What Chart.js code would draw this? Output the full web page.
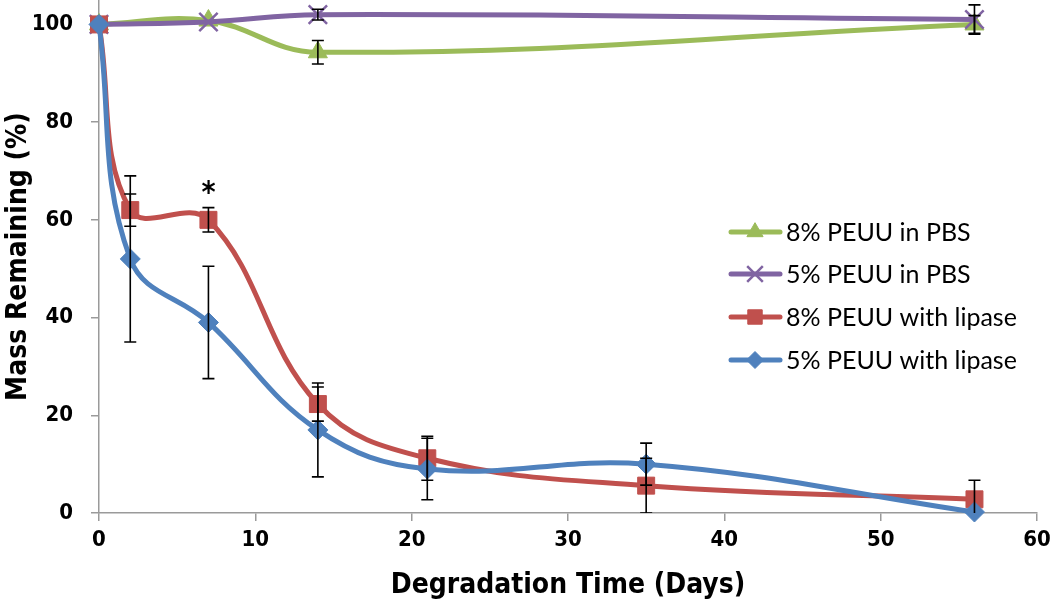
<!DOCTYPE html>
<html>
<head>
<meta charset="utf-8">
<script src="https://cdn.jsdelivr.net/npm/chart.js@4/dist/chart.umd.min.js"></script>
<style>
    html, body { margin: 0; padding: 0; background: #fff; }
    #wrap { width: 1050px; height: 612px; position: relative; }
</style>
</head>
<body>
<div id="wrap"><canvas id="chart"></canvas></div>
<script>
// days sampled
var daysPBS = [0, 7, 14, 56];
var daysLipase = [0, 2, 7, 14, 21, 35, 56];

// mass remaining (%) and error bars
var pbs8 = [100, 100.8, 94.3, 100];
var pbs8Err = [0, 0, 2.4, 1.8];
var pbs5 = [100, 100.5, 102, 101];
var pbs5Err = [0, 0, 1.1, 3];
var lip8 = [100, 62, 60, 22.3, 11.2, 5.6, 2.8];
var lip8Err = [0, 3.3, 2.5, 3.5, 4.5, 5.6, 3.9];
var lip5 = [100, 52, 39, 17, 9, 10, 0.2];
var lip5Err = [0, 17, 11.5, 9.6, 6.3, 4.3, 0];

var seriesNames = ['8% PEUU in PBS', '5% PEUU in PBS', '8% PEUU with lipase', '5% PEUU with lipase'];
var xTicks = [0, 10, 20, 30, 40, 50, 60];
var yTicks = [0, 20, 40, 60, 80, 100];

var TICK_FONT = "'DejaVu Sans Condensed', 'DejaVu Sans', sans-serif";

function pts(xs, ys) {
    return xs.map(function (x, i) { return { x: x, y: ys[i] }; });
}

function mkSet(label, xs, ys, errs, color, style, radius, order) {
    return {
        label: label,
        data: pts(xs, ys),
        errors: errs,
        borderColor: color,
        backgroundColor: color,
        borderWidth: 5,
        pointStyle: style,
        pointRadius: radius,
        pointHoverRadius: radius,
        pointBorderWidth: style === 'crossRot' ? 2.5 : 1,
        pointBorderColor: color,
        pointBackgroundColor: color,
        tension: 0.4,
        fill: false,
        clip: 12,
        order: order
    };
}

function drawMarker(ctx, style, r, x, y) {
    Chart.helpers.drawPoint(ctx, { pointStyle: style, radius: r, borderWidth: ctx.lineWidth, rotation: 0 }, x, y);
}

// black error bars on top of the lines
var errorBars = {
    id: 'errorBars',
    afterDatasetsDraw: function (chart) {
        var ctx = chart.ctx, a = chart.chartArea;
        var xs = chart.scales.x, ys = chart.scales.y;
        ctx.save();
        ctx.beginPath();
        ctx.rect(a.left, 0, a.right - a.left, a.bottom);
        ctx.clip();
        ctx.strokeStyle = '#000';
        ctx.lineWidth = 1.6;
        chart.data.datasets.forEach(function (ds) {
            ds.data.forEach(function (p, i) {
                var e = ds.errors[i];
                if (!e) return;
                var px = xs.getPixelForValue(p.x);
                var top = ys.getPixelForValue(p.y + e);
                var bot = ys.getPixelForValue(p.y - e);
                ctx.beginPath();
                ctx.moveTo(px, top); ctx.lineTo(px, bot);
                ctx.moveTo(px - 6, top); ctx.lineTo(px + 6, top);
                ctx.moveTo(px - 6, bot); ctx.lineTo(px + 6, bot);
                ctx.stroke();
            });
        });
        ctx.restore();

        // significance star over day 7
        ctx.save();
        ctx.fillStyle = '#000';
        ctx.font = "bold 30px " + TICK_FONT;
        ctx.textAlign = 'center';
        ctx.textBaseline = 'middle';
        ctx.fillText('*', xs.getPixelForValue(7), ys.getPixelForValue(66) + 4);
        ctx.restore();
    }
};

// legend drawn inside the plot, like the original
var innerLegend = {
    id: 'innerLegend',
    afterDraw: function (chart) {
        var ctx = chart.ctx;
        var rows = [232, 274, 317, 360];
        var sets = chart.data.datasets;
        ctx.save();
        for (var i = 0; i < sets.length; i++) {
            var ds = sets[i], y = rows[i];
            ctx.strokeStyle = ds.borderColor;
            ctx.lineWidth = 5;
            ctx.lineCap = 'round';
            ctx.beginPath();
            ctx.moveTo(731, y); ctx.lineTo(780, y);
            ctx.stroke();
            ctx.lineCap = 'butt';
            ctx.fillStyle = ds.borderColor;
            ctx.lineWidth = ds.pointBorderWidth;
            drawMarker(ctx, ds.pointStyle, ds.pointRadius * 0.85, 755, y);
            ctx.fillStyle = '#000';
            ctx.font = "25px Lato, 'Open Sans', sans-serif";
            ctx.textAlign = 'left';
            ctx.textBaseline = 'middle';
            ctx.fillText(ds.label, 786, y + 1);
        }
        ctx.restore();
    }
};

var datasets = [
    mkSet(seriesNames[0], daysPBS, pbs8, pbs8Err, '#9BBB59', 'triangle', 11, 4),
    mkSet(seriesNames[1], daysPBS, pbs5, pbs5Err, '#8064A2', 'crossRot', 13, 3),
    mkSet(seriesNames[2], daysLipase, lip8, lip8Err, '#C0504D', 'rect', 12, 2),
    mkSet(seriesNames[3], daysLipase, lip5, lip5Err, '#4F81BD', 'rectRot', 10, 1)
];

new Chart(document.getElementById('chart'), {
    type: 'line',
    data: { datasets: datasets },
    plugins: [errorBars, innerLegend],
    options: {
        responsive: true,
        maintainAspectRatio: false,
        animation: false,
        layout: { autoPadding: false, padding: { top: 0, right: 13, left: 0, bottom: 0 } },
        plugins: {
            legend: { display: false },
            tooltip: { enabled: false }
        },
        scales: {
            x: {
                type: 'linear',
                min: 0,
                max: 60,
                afterBuildTicks: function (s) { s.ticks = xTicks.map(function (v) { return { value: v }; }); },
                afterFit: function (s) { s.height = 99; s.paddingLeft = 0; s.paddingRight = 0; },
                grid: { display: true, drawOnChartArea: false, color: '#9a9a9a', tickLength: 8, lineWidth: 1.5 },
                border: { color: '#9a9a9a', width: 1.5 },
                ticks: { color: '#000', padding: 6, font: { family: TICK_FONT, size: 22, weight: 'bold' } },
                title: {
                    display: true,
                    text: 'Degradation Time (Days)',
                    color: '#000',
                    padding: { top: 0, bottom: 9 },
                    font: { family: TICK_FONT, size: 28, weight: 'bold' }
                }
            },
            y: {
                type: 'linear',
                min: 0,
                max: 105,
                afterBuildTicks: function (s) { s.ticks = yTicks.map(function (v) { return { value: v }; }); },
                afterFit: function (s) { s.width = 99; s.paddingTop = 0; s.paddingBottom = 0; },
                grid: { display: true, drawOnChartArea: false, color: '#9a9a9a', tickLength: 8, lineWidth: 1.5 },
                border: { color: '#9a9a9a', width: 1.5 },
                ticks: { color: '#000', padding: 18, font: { family: TICK_FONT, size: 22, weight: 'bold' } },
                title: {
                    display: true,
                    text: 'Mass Remaining (%)',
                    color: '#000',
                    padding: { top: 2, bottom: 0 },
                    font: { family: TICK_FONT, size: 28, weight: 'bold' }
                }
            }
        }
    }
});
</script>
</body>
</html>
